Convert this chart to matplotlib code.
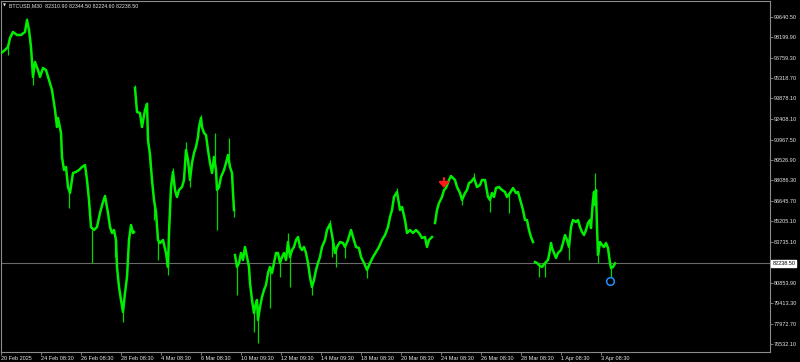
import matplotlib
matplotlib.use("Agg")
import matplotlib.pyplot as plt
import numpy as np

plt.rcParams["font.family"] = ["Liberation Sans", "DejaVu Sans"]

# BTCUSD M30 - posição da barra no gráfico e preço (nan = fim de semana)
t = [0, 5, 8, 10, 13, 17, 21, 25, 27, 29, 31, 33, 35, 38, 40, 43, 46, 49, 52, 55,
     57, 58, 61, 62, 64, 66, 68, 70, 73, 76, 79, 82, 85, 87, 89, 91, 94, 97, 100, 103,
     105, 108, 110, 112, 114, 116, 117, 119, 121, 123, 125, 127, 129, 131, 133, 134,
     134.5,
     135, 137, 140, 142, 145, 147, 148, 150, 152, 154, 156, 158, 160, 163, 166, 168,
     169, 171, 173, 175, 177, 179, 182, 184, 186, 188, 190, 192, 194, 196, 198, 199,
     201, 202, 204, 206, 208, 210, 212, 214, 216, 217, 219, 221, 224, 226, 228, 230,
     232, 233, 234,
     234.5,
     235, 237, 239, 241, 243, 245, 247, 249, 250, 252, 254, 255, 257, 258, 260, 262,
     264, 266, 268, 270, 272, 274, 276, 278, 280, 282, 284, 286, 288, 290, 292, 294,
     296, 298, 300, 302, 304, 306, 308, 310, 312, 314, 316, 318, 320, 322, 325, 327,
     330, 332, 335, 337, 340, 343, 345, 348, 351, 353, 356, 359, 361, 364, 367, 370,
     373, 376, 379, 382, 385, 388, 390, 392, 394, 397, 400, 402, 405, 407, 410, 413,
     416, 419, 422, 425, 427, 429, 432,
     433.5,
     435, 437, 439, 442, 444, 446, 449, 451, 452, 455, 457, 460, 462, 465, 467, 469,
     471, 474, 477, 480, 482, 485, 488, 490, 492, 494, 496, 499, 502, 505, 507, 510,
     513, 516, 518, 521, 523, 525, 527, 529, 531, 533,
     534,
     535, 537, 539, 542, 545, 548, 550, 551, 552, 554, 556, 558, 561, 563, 565, 567,
     569, 571, 573, 576, 578, 580, 582, 584, 586, 588, 590, 591, 592, 593, 594, 595,
     596, 597, 598, 600, 602, 604, 606, 608, 610, 611, 613, 615]

nan = float("nan")
price = [97009, 97291, 97503, 98137, 98561, 98349, 98349, 98561, 99407, 98702, 97503,
         95386, 96445, 95880, 95386, 96021, 95880, 95175, 94469, 93059,
         91859, 92494, 91436, 89743, 88826, 89038, 87627, 87204, 88615, 88685, 88826,
         89038, 89179, 88121, 86710, 84805, 84594, 84805, 85793, 86569,
         86992, 85793, 84805, 84382, 84594, 83888, 81984, 80573, 79656, 78810, 80150,
         81278, 83888, 84946, 84382, 84453,
         nan,
         94610, 92918, 92847, 91859, 93059, 93482, 90942, 89884, 88121, 86710, 85864,
         83888, 83677, 83888, 82971, 81984,
         84382, 87627, 88685, 87415, 86922, 87415, 87627, 88121, 90237, 89532, 88121,
         89320, 90025, 90449, 91154, 91859,
         92494, 91859, 91436, 91295, 90237, 89320, 88615, 89743, 88826, 87415, 87627,
         88332, 88826, 89320, 89884, 89038,
         88615, 87204, 86005,
         nan,
         82830, 81984, 82266, 82971, 82478, 83395, 82689, 81984, 80855, 79656, 78739,
         79162, 79656, 78245, 79162, 79868,
         80361, 80714, 81561, 81984, 81561, 82266, 82971, 82971, 82266, 82689, 82971,
         82478, 83747, 82689, 83183, 83395,
         83888, 84100, 83395, 83183, 83395, 82971, 82266, 81278, 80573, 81067, 81772,
         82266, 82689, 83395, 83888, 84594,
         85017, 84241, 82971, 83395, 83747, 83677, 83395, 83888, 84594, 84100, 83395,
         83324, 82689, 82266, 81772, 82266,
         82689, 83042, 83395, 83888, 84241, 84805, 85511, 86005, 86922, 87274, 86005,
         86216, 85299, 84382, 84594, 84382,
         84594, 84382, 84029, 84100, 83395, 83888, 84100,
         nan,
         85088, 86005, 86498, 86922, 87415, 87556, 88121, 88403, 88332, 88121, 87627,
         87204, 86710, 87204, 87415, 87909,
         87980, 88262, 87627, 87768, 88121, 88121, 86922, 86710, 87204, 86922, 87556,
         87627, 87415, 87274, 86922, 87204,
         87556, 87204, 87274, 86498, 86005, 85299, 85299, 84594, 84100, 83747,
         nan,
         82337, 82266, 82125, 81984, 82266, 82478, 83183, 83677, 83324, 82971, 82619,
         82971, 83183, 83677, 84241, 83888,
         83395, 84805, 85299, 85158, 85299, 84805, 84453, 84241, 84594, 85088, 85299,
         84735, 85793, 86710, 87274, 86357,
         87415, 84805, 82830, 83747, 83536, 83395, 83677, 83324, 82266, 81913, 81984,
         82238.5]

# extremos (máximas/mínimas) das barras mais longas
spike_t = [8, 27, 33, 69, 92, 115, 123, 135, 147, 150, 154, 158, 168, 173, 186, 190,
           201, 215, 217, 229, 234, 237, 254, 258, 270, 280, 288, 290, 312, 330, 332,
           336, 345, 367, 397, 462, 474, 490, 509, 539, 545, 569, 595, 598, 611]
spike_price = [96938, 99548, 94822, 86146, 82266, 82689, 78104, 94822, 93623, 89038,
               85299, 82478, 81419, 88967, 90801, 87627, 92706, 91436, 84594, 91083,
               85511, 80009, 77399, 76623, 79092, 81278, 84382, 80573, 80009, 85299,
               82689, 81984, 82619, 81208, 87556, 86357, 88615, 85864, 85793, 81278,
               81278, 82478, 88615, 82266, 81278]

tick_t = [1, 41, 81, 121, 161, 201, 241, 281, 321, 361, 401, 441, 481, 521, 561, 601]
tick_labels = ["20 Feb 2025", "24 Feb 08:30", "26 Feb 08:30", "28 Feb 08:30",
               "4 Mar 08:30", "6 Mar 08:30", "10 Mar 09:30", "12 Mar 09:30",
               "14 Mar 09:30", "18 Mar 08:30", "20 Mar 08:30", "24 Mar 08:30",
               "26 Mar 08:30", "28 Mar 08:30", "1 Apr 08:30", "3 Apr 08:30"]

price_ticks = [99640.50, 98199.90, 96759.30, 95318.70, 93878.10, 92408.10, 90967.50,
               89526.90, 88086.30, 86645.70, 85205.10, 83735.10, 80853.90, 79413.30,
               77972.70, 76532.10]
price_labels = [f"{p:.2f}" for p in price_ticks]

last_price = 82238.50
header = "BTCUSD,M30  82310.90 82344.50 82224.60 82238.50"

# seta de venda (topo e ponta) e marcador
sell_t, sell_top, sell_tip = 444, 88260, 87560
mark_t, mark_price = 610, 80996

fig = plt.figure(figsize=(8, 3.62), dpi=100, facecolor="black")
ax = fig.add_axes([1 / 800, 10 / 362, 769 / 800, 351 / 362])
ax.set_facecolor("black")

# linha do preço atual
ax.axhline(last_price, color="#6a6a6a", lw=0.8, zorder=1)

# sombras das barras
t_arr = np.array(t)
p_arr = np.array(price)
idx = np.clip(np.searchsorted(t_arr, spike_t), 0, len(t_arr) - 1)
ax.vlines(spike_t, p_arr[idx], spike_price, color="#00d800", lw=0.9, zorder=2)

# preço
ax.plot(t_arr, p_arr, color="#00ee00", lw=1.8, solid_joinstyle="round", zorder=3)

ax.annotate("", xy=(sell_t, sell_tip), xytext=(sell_t, sell_top),
            arrowprops=dict(arrowstyle="-|>,head_width=0.5,head_length=0.55",
                            color="#ff1a1a", lw=1.5, mutation_scale=6,
                            shrinkA=0, shrinkB=0), zorder=5)
ax.plot(mark_t, mark_price, marker="o", ms=5.5, mfc="none", mec="#1e90ff", mew=1.1,
        zorder=5)

ax.set_xlim(1, 770)
ax.set_ylim(75988, 100747)

ax.set_xticks(tick_t)
ax.set_xticklabels(tick_labels, ha="left", fontsize=4, color="#e6e6e6")
ax.tick_params(axis="x", length=2, width=0.6, color="#8c8c8c", pad=0.8)

ax.yaxis.tick_right()
ax.set_yticks(price_ticks)
ax.set_yticklabels(price_labels, fontsize=4, color="#e6e6e6")
ax.tick_params(axis="y", length=2, width=0.6, color="#8c8c8c", pad=0.8)

for s in ax.spines.values():
    s.set_color("#8c8c8c")
    s.set_linewidth(0.8)

# caixa do último preço
ax.text(1.003, last_price, f"{last_price:.2f}", transform=ax.get_yaxis_transform(),
        ha="left", va="center", fontsize=4, color="black",
        bbox=dict(boxstyle="square,pad=0.2", fc="white", ec="white"))

# cabeçalho
fig.text(3 / 800, 1 - 5.5 / 362, "\u25bc", fontsize=2.8, color="#e6e6e6",
         va="center", ha="left", family=["DejaVu Sans"])
fig.text(9 / 800, 1 - 5.5 / 362, header, fontsize=3.8, color="#e6e6e6",
         va="center", ha="left")

fig.savefig("out.png", dpi=100, facecolor="black")
